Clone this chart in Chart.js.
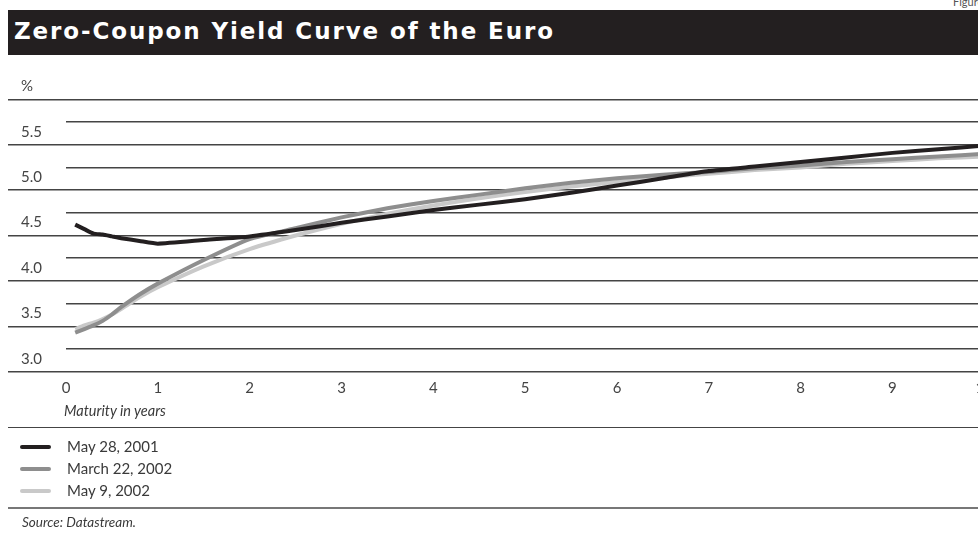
<!DOCTYPE html>
<html>
<head>
<meta charset="utf-8">
<title>Zero-Coupon Yield Curve of the Euro</title>
<script src="https://cdn.jsdelivr.net/npm/chart.js@4.4.1/dist/chart.umd.min.js"></script>
<style>
    html, body { margin: 0; padding: 0; background: #fff; }
    body { width: 978px; height: 534px; overflow: hidden; position: relative; font-family: Lato, "Open Sans", sans-serif; color: #3a3a3a; }
    .abs { position: absolute; white-space: nowrap; }
    #figNo { left: 953px; top: -5px; font-size: 11px; color: #555; }
    #titleBar { left: 8px; top: 10px; width: 1000px; height: 45px; background: #231f20; }
    #title { left: 14px; top: 18px; font-family: "DejaVu Sans", sans-serif; font-weight: bold; font-size: 23px; letter-spacing: 1.9px; color: #fff; }
    #chartWrap { left: 0; top: 0; width: 1000px; height: 534px; }
    .rule { position: absolute; left: 8px; width: 1000px; }
    #xTitle { left: 64px; top: 402px; font-size: 14.5px; font-style: italic; }
    .legItem { position: absolute; left: 20px; height: 22px; }
    .legItem i { position: absolute; left: 0; top: 9px; width: 31px; height: 4px; border-radius: 2px; }
    .legItem span { position: absolute; left: 47px; top: 1px; font-size: 15px; white-space: nowrap; }
    #source { left: 22px; top: 514px; font-size: 13.5px; font-style: italic; }
</style>
</head>
<body>

<div class="abs" id="figNo">Figure 1</div>
<div class="abs" id="titleBar"></div>
<div class="abs" id="title">Zero-Coupon Yield Curve of the Euro</div>

<div class="abs" id="chartWrap"><canvas id="yieldChart" width="1000" height="534"></canvas></div>

<div class="abs" id="xTitle">Maturity in years</div>
<div class="rule" style="top:427px; border-top:1.5px solid #444;"></div>
<div id="legend"></div>
<div class="rule" style="top:507px; border-top:2px solid #777;"></div>
<div class="abs" id="source">Source: Datastream.</div>

<script>
/* ── Data (maturity in years, yield in %) ── */
const maturities = [0.1, 0.2, 0.3, 0.4, 0.5, 0.6, 0.8, 1, 1.5, 2, 2.5, 3, 3.5, 4, 4.5, 5, 5.5, 6, 6.5, 7, 7.5, 8, 8.5, 9, 9.5, 10];

const may2001   = [4.62, 4.57, 4.52, 4.51, 4.49, 4.47, 4.44, 4.41, 4.45, 4.49, 4.56, 4.64, 4.71, 4.78, 4.84, 4.90, 4.97, 5.05, 5.13, 5.21, 5.26, 5.31, 5.36, 5.41, 5.45, 5.49];
const march2002 = [3.43, 3.47, 3.51, 3.56, 3.63, 3.71, 3.85, 3.97, 4.23, 4.46, 4.58, 4.70, 4.80, 4.88, 4.95, 5.02, 5.08, 5.13, 5.17, 5.20, 5.24, 5.27, 5.31, 5.34, 5.37, 5.40];
const may2002   = [3.47, 3.51, 3.54, 3.58, 3.63, 3.69, 3.82, 3.93, 4.16, 4.35, 4.50, 4.63, 4.74, 4.83, 4.91, 4.98, 5.04, 5.09, 5.14, 5.18, 5.22, 5.25, 5.29, 5.32, 5.35, 5.37];

const seriesLabels = ['May 28, 2001', 'March 22, 2002', 'May 9, 2002'];
const seriesColors = ['#231f20', '#8e8e8e', '#c9c9c9'];

const xTicks = [0, 1, 2, 3, 4, 5, 6, 7, 8, 9, 10];
const yMin = 3.0, yMax = 6.0, yStep = 0.25;

/* ── Legend (HTML) ── */
const legendEl = document.getElementById('legend');
seriesLabels.forEach((lbl, i) => {
    const d = document.createElement('div');
    d.className = 'legItem';
    d.style.top = (436 + i * 22) + 'px';
    d.innerHTML = `<i style="background:${seriesColors[i]}"></i><span>${lbl}</span>`;
    legendEl.appendChild(d);
});

/* ── Chart ── */
const toPoints = vals => maturities.map((m, i) => ({ x: m, y: vals[i] }));
const isMajor  = v => Math.round(v * 4) % 2 === 0;
const font     = { family: "Lato, 'Open Sans', sans-serif", size: 15 };

new Chart(document.getElementById('yieldChart'), {
    type: 'line',
    data: {
        datasets: [may2001, march2002, may2002].map((vals, i) => ({
            label: seriesLabels[i],
            data: toPoints(vals),
            borderColor: seriesColors[i],
            borderWidth: 4,
            pointRadius: 0,
            tension: 0.15,
            fill: false,
        }))
    },
    options: {
        responsive: false,
        animation: false,
        layout: { padding: { left: 21, top: 99.3, right: 12, bottom: 534 - 371.7 - 30 } },
        plugins: { legend: { display: false }, tooltip: { enabled: false } },
        scales: {
            x: {
                type: 'linear', position: 'bottom', min: 0, max: 10,
                afterBuildTicks: s => { s.ticks = xTicks.map(v => ({ value: v })); },
                afterFit: s => { s.height = 30; },
                grid: { display: false, drawTicks: false },
                border: { display: false },
                ticks: { font, color: '#444', padding: 7, maxRotation: 0, autoSkip: false }
            },
            y: {
                min: yMin, max: yMax,
                afterFit: s => { s.width = 45; },
                grid: {
                    color: '#444', lineWidth: 1.5,
                    drawTicks: true, tickLength: 58, tickWidth: 1.5,
                    tickColor: c => isMajor(c.tick.value) ? '#444' : 'rgba(0,0,0,0)'
                },
                border: { display: false },
                ticks: {
                    stepSize: yStep, autoSkip: false, font, color: '#444',
                    crossAlign: 'far', labelOffset: -13,
                    callback: v => Math.abs(v - yMax) < 1e-6 ? '%' : (isMajor(v) ? v.toFixed(1) : '')
                }
            }
        }
    }
});
</script>
</body>
</html>
